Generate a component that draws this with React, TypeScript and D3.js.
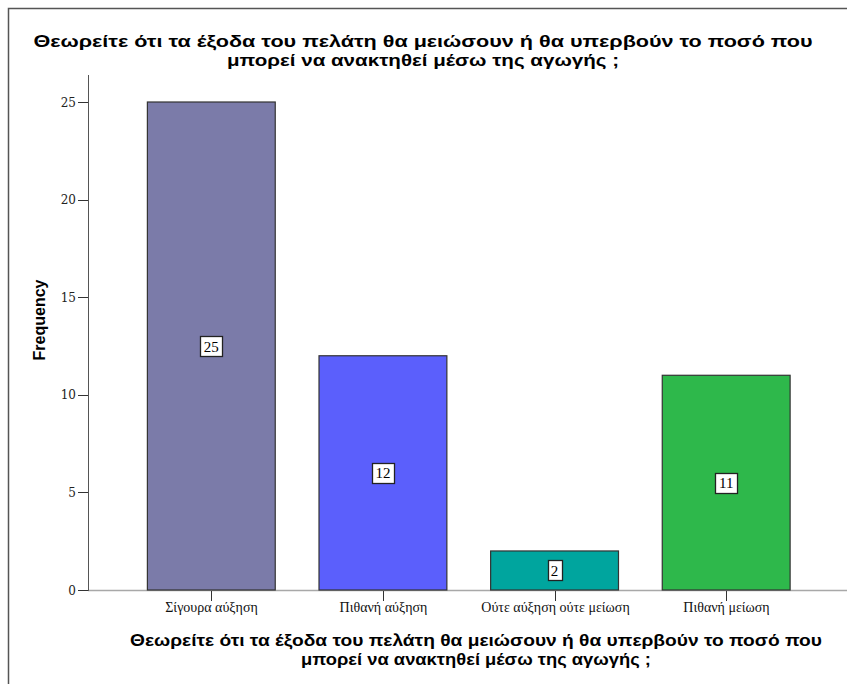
import React, { useEffect, useRef } from "react";
import * as d3 from "d3";

const categories = ["Σίγουρα αύξηση", "Πιθανή αύξηση", "Ούτε αύξηση ούτε μείωση", "Πιθανή μείωση"];
const frequencies = [25, 12, 2, 11];
const barColors = ["#7b7ba9", "#5b5ffc", "#00a59e", "#2eb84b"];
const yTicks = [0, 5, 10, 15, 20, 25];
const titleLines = [
  "Θεωρείτε ότι τα έξοδα του πελάτη θα μειώσουν ή θα υπερβούν το ποσό που",
  "μπορεί να ανακτηθεί μέσω της αγωγής ;",
];
const yAxisTitle = "Frequency";

const W = 847;
const H = 684;
const topTitleWidths = [779, 392];
const bottomTitleWidths = [692, 350];

export default function App() {
  const ref = useRef<SVGSVGElement>(null);

  useEffect(() => {
    const svg = d3.select(ref.current);
    svg.selectAll("*").remove();

    const y = d3.scaleLinear().domain([0, 25]).range([590, 102]);
    const x = d3
      .scaleBand<string>()
      .domain(categories)
      .range([125.5, 812])
      .paddingInner(0.255)
      .paddingOuter(0.1275);

    svg.append("rect").attr("x", 0).attr("y", 0).attr("width", W).attr("height", H).attr("fill", "#fff");
    svg
      .append("rect")
      .attr("x", 8.5)
      .attr("y", 8.5)
      .attr("width", W + 20)
      .attr("height", H + 20)
      .attr("fill", "none")
      .attr("stroke", "#555")
      .attr("stroke-width", 1.5);

    // title
    titleLines.forEach((l, i) => {
      svg
        .append("text")
        .attr("x", 423)
        .attr("y", 47 + i * 19)
        .attr("text-anchor", "middle")
        .attr("font-family", "Liberation Sans, Arial, sans-serif")
        .attr("font-weight", "bold")
        .attr("font-size", 17)
        .attr("textLength", topTitleWidths[i])
        .attr("lengthAdjust", "spacingAndGlyphs")
        .attr("fill", "#000")
        .text(l);
    });

    // x axis line
    svg
      .append("line")
      .attr("x1", 88)
      .attr("x2", W)
      .attr("y1", 590.5)
      .attr("y2", 590.5)
      .attr("stroke", "#a8a8a8")
      .attr("stroke-width", 1.5);

    // bars
    const g = svg.append("g");
    categories.forEach((c, i) => {
      const v = frequencies[i];
      g.append("rect")
        .attr("x", x(c)!)
        .attr("y", y(v))
        .attr("width", x.bandwidth())
        .attr("height", y(0) - y(v))
        .attr("fill", barColors[i])
        .attr("stroke", "#333")
        .attr("stroke-width", 1.2);
    });

    // y axis
    svg
      .append("line")
      .attr("x1", 88.5)
      .attr("x2", 88.5)
      .attr("y1", 75)
      .attr("y2", 591)
      .attr("stroke", "#555")
      .attr("stroke-width", 1);
    yTicks.forEach((t) => {
      svg
        .append("line")
        .attr("x1", 78)
        .attr("x2", 88)
        .attr("y1", Math.round(y(t)) + 0.5)
        .attr("y2", Math.round(y(t)) + 0.5)
        .attr("stroke", "#333");
      svg
        .append("text")
        .attr("x", 76)
        .attr("y", y(t) + 4.5)
        .attr("text-anchor", "end")
        .attr("font-family", "DejaVu Serif, serif")
        .attr("font-size", 12)
        .attr("fill", "#222")
        .text(String(t));
    });

    // x ticks and labels
    categories.forEach((c) => {
      const cx = Math.round(x(c)! + x.bandwidth() / 2) + 0.5;
      svg
        .append("line")
        .attr("x1", cx)
        .attr("x2", cx)
        .attr("y1", 591)
        .attr("y2", 601)
        .attr("stroke", "#333");
      svg
        .append("text")
        .attr("x", cx)
        .attr("y", 612)
        .attr("text-anchor", "middle")
        .attr("font-family", "Liberation Serif, Times New Roman, serif")
        .attr("font-size", 14)
        .attr("fill", "#111")
        .text(c);
    });

    // value labels
    categories.forEach((c, i) => {
      const v = frequencies[i];
      const cx = x(c)! + x.bandwidth() / 2;
      const cy = y(v / 2);
      const txt = String(v);
      const w = txt.length > 1 ? 22 : 14;
      svg
        .append("rect")
        .attr("x", Math.round(cx - w / 2) + 0.5)
        .attr("y", Math.round(cy - 10) + 0.5)
        .attr("width", w)
        .attr("height", 20)
        .attr("fill", "#fff")
        .attr("stroke", "#222")
        .attr("stroke-width", 1.3);
      svg
        .append("text")
        .attr("x", cx)
        .attr("y", cy + 5.5)
        .attr("text-anchor", "middle")
        .attr("font-family", "Liberation Serif, Times New Roman, serif")
        .attr("font-size", 15)
        .attr("fill", "#000")
        .text(txt);
    });

    // x axis title
    titleLines.forEach((l, i) => {
      svg
        .append("text")
        .attr("x", 476)
        .attr("y", 646 + i * 19)
        .attr("text-anchor", "middle")
        .attr("font-family", "Liberation Sans, Arial, sans-serif")
        .attr("font-weight", "bold")
        .attr("font-size", 16.5)
        .attr("textLength", bottomTitleWidths[i])
        .attr("lengthAdjust", "spacingAndGlyphs")
        .attr("fill", "#000")
        .text(l);
    });

    // y axis title
    svg
      .append("text")
      .attr("transform", "translate(45,320) rotate(-90)")
      .attr("text-anchor", "middle")
      .attr("font-family", "Liberation Sans, Arial, sans-serif")
      .attr("font-weight", "bold")
      .attr("font-size", 16)
      .attr("fill", "#000")
      .text(yAxisTitle);
  }, []);

  return (
    <svg
      ref={ref}
      width={W}
      height={H}
      style={{ position: "absolute", left: 0, top: 0, display: "block" }}
    />
  );
}
